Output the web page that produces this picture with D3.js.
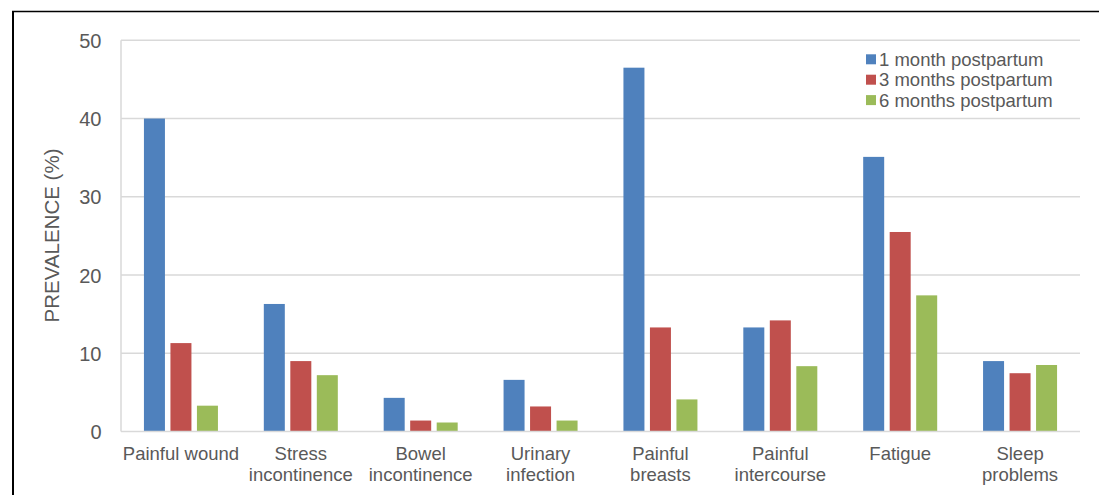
<!DOCTYPE html>
<html>
<head>
<meta charset="utf-8">
<script src="https://cdn.jsdelivr.net/npm/d3@7"></script>
<style>
  html, body { margin: 0; padding: 0; background: #fff; }
  svg { display: block; }
  text { font-family: Arial, "Liberation Sans", sans-serif; fill: #595959; }
</style>
</head>
<body>
<svg id="chart" width="1099" height="495"></svg>
<script>
const categories = [
  ["Painful wound"],
  ["Stress", "incontinence"],
  ["Bowel", "incontinence"],
  ["Urinary", "infection"],
  ["Painful", "breasts"],
  ["Painful", "intercourse"],
  ["Fatigue"],
  ["Sleep", "problems"]
];
const seriesNames = ["1 month postpartum", "3 months postpartum", "6 months postpartum"];
const oneMonth   = [40.0, 16.3, 4.3, 6.6, 46.5, 13.3, 35.1, 9.0];
const threeMonth = [11.3, 9.0, 1.4, 3.2, 13.3, 14.2, 25.5, 7.45];
const sixMonth   = [3.3, 7.2, 1.15, 1.4, 4.1, 8.35, 17.4, 8.5];
const yTicks = [0, 10, 20, 30, 40, 50];
const colors = ["#4F81BD", "#C0504D", "#9BBB59"];

const seriesValues = [oneMonth, threeMonth, sixMonth];
const svg = d3.select("#chart");

const plot = { left: 121, right: 1080, top: 40.3, bottom: 431.5 };

const catKeys = categories.map((c, i) => i);
const x0 = d3.scaleBand().domain(catKeys).range([plot.left, plot.right]).paddingInner(0).paddingOuter(0);
const groupW = 74;
const x1 = d3.scaleBand().domain([0, 1, 2]).range([-groupW / 2, groupW / 2]).paddingInner(5.5 / 26.5).paddingOuter(0);
const y = d3.scaleLinear().domain([0, 50]).range([plot.bottom, plot.top]);

// border (left & top)
svg.append("line").attr("x1", 13).attr("x2", 13).attr("y1", 11).attr("y2", 495)
  .attr("stroke", "#000").attr("stroke-width", 2);
svg.append("line").attr("x1", 12).attr("x2", 1099).attr("y1", 11.5).attr("y2", 11.5)
  .attr("stroke", "#000").attr("stroke-width", 1.3);

// gridlines
svg.append("g").selectAll("line").data(yTicks.filter(d => d > 0)).join("line")
  .attr("x1", plot.left).attr("x2", plot.right)
  .attr("y1", d => y(d)).attr("y2", d => y(d))
  .attr("stroke", "#d9d9d9").attr("stroke-width", 1.5);

// y axis line
svg.append("line").attr("x1", plot.left).attr("x2", plot.left)
  .attr("y1", plot.top).attr("y2", plot.bottom)
  .attr("stroke", "#d9d9d9").attr("stroke-width", 1.5);

// y tick labels via axis
const yAxis = d3.axisLeft(y).tickValues(yTicks).tickSize(0).tickPadding(0);
const yg = svg.append("g").attr("transform", `translate(${101.5},0)`).call(yAxis);
yg.select(".domain").remove();
yg.selectAll("text").style("font-size", "20px").attr("fill", "#595959")
  .style("font-family", 'Arial, "Liberation Sans", sans-serif').attr("dy", "0.35em");

// bars
const groups = svg.append("g").selectAll("g").data(catKeys).join("g")
  .attr("transform", d => `translate(${x0(d) + x0.bandwidth() / 2},0)`);
groups.selectAll("rect").data(ci => seriesValues.map((s, si) => ({ si, v: s[ci] }))).join("rect")
  .attr("x", d => x1(d.si))
  .attr("width", x1.bandwidth())
  .attr("y", d => y(d.v))
  .attr("height", d => y(0) - y(d.v))
  .attr("fill", d => colors[d.si]);

// x axis line
svg.append("line").attr("x1", plot.left).attr("x2", plot.right)
  .attr("y1", plot.bottom).attr("y2", plot.bottom)
  .attr("stroke", "#d9d9d9").attr("stroke-width", 1.5);

// category labels
const labels = svg.append("g").selectAll("text").data(catKeys).join("text")
  .attr("x", d => x0(d) + x0.bandwidth() / 2)
  .attr("y", 454)
  .attr("text-anchor", "middle")
  .style("font-size", "18.5px");
labels.selectAll("tspan").data(d => categories[d]).join("tspan")
  .attr("x", function() { return d3.select(this.parentNode).attr("x"); })
  .attr("dy", (d, i) => i === 0 ? "0.35em" : "21px")
  .text(d => d);

// y axis title
svg.append("text")
  .attr("transform", `translate(52,${(146 + 325) / 2}) rotate(-90)`)
  .attr("text-anchor", "middle")
  .attr("dy", "0.35em")
  .style("font-size", "20.5px")
  .text("PREVALENCE (%)");

// legend
const legend = svg.append("g").selectAll("g").data(seriesNames).join("g")
  .attr("transform", (d, i) => `translate(866,${59.3 + i * 20.4})`);
legend.append("rect").attr("x", 0).attr("y", -5).attr("width", 10).attr("height", 10)
  .attr("fill", (d, i) => colors[i]);
legend.append("text").attr("x", 13).attr("dy", "0.35em")
  .style("font-size", "18.5px").text(d => d);
</script>
</body>
</html>
